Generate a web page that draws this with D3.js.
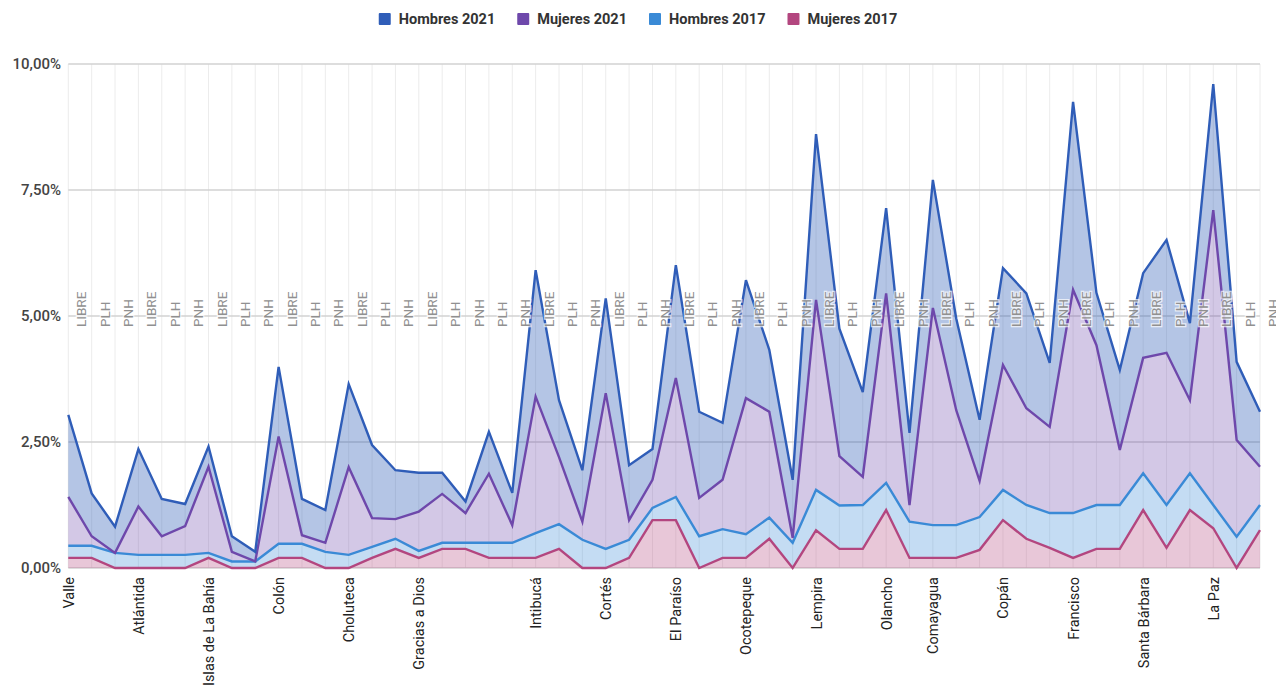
<!DOCTYPE html>
<html>
<head>
<meta charset="utf-8">
<script src="https://cdn.jsdelivr.net/npm/d3@7"></script>
<style>
  html, body { margin: 0; padding: 0; background: #fff; }
  svg { display: block; font-family: Roboto, "Noto Sans", Arial, sans-serif; }
</style>
</head>
<body>
<svg id="chart" width="1276" height="690"></svg>
<script>
// ---- Data ----
const departamentos = [
  "Valle","","", "Atlántida","","", "Islas de La Bahía","","", "Colón","","",
  "Choluteca","","", "Gracias a Dios","","", "","",
  "Intibucá","","", "Cortés","","", "El Paraíso","","", "Ocotepeque","","",
  "Lempira","","", "Olancho","", "Comayagua","","", "Copán","","",
  "Francisco","","", "Santa Bárbara","","", "La Paz","",""
];
const partidos = [
  "LIBRE","PLH","PNH","LIBRE","PLH","PNH","LIBRE","PLH","PNH","LIBRE","PLH","PNH",
  "LIBRE","PLH","PNH","LIBRE","PLH","PNH","PLH","PNH",
  "LIBRE","PLH","PNH","LIBRE","PLH","PNH","LIBRE","PLH","PNH","LIBRE","PLH","PNH",
  "LIBRE","PLH","PNH","LIBRE","PNH","LIBRE","PLH","PNH","LIBRE","PLH","PNH",
  "LIBRE","PLH","PNH","LIBRE","PLH","PNH","LIBRE","PLH","PNH"
];
// values in % (stacked series)
const mujeres2017 = [0.20,0.20,0,0,0,0,0.20,0,0,0.20,0.20,0,0,0.20,0.38,0.20,0.38,0.38,0.20,0.20,
  0.20,0.38,0,0,0.20,0.95,0.95,0,0.20,0.20,0.58,0,0.75,0.38,0.38,1.15,0.20,0.20,0.20,0.36,
  0.95,0.58,0.40,0.20,0.38,0.38,1.15,0.40,1.15,0.79,0,0.75];
const hombres2017 = [0.24,0.24,0.30,0.26,0.26,0.26,0.10,0.13,0.13,0.28,0.28,0.32,0.26,0.22,0.20,0.14,0.12,0.12,0.30,0.30,
  0.49,0.49,0.56,0.38,0.36,0.24,0.46,0.63,0.57,0.47,0.42,0.50,0.80,0.86,0.87,0.54,0.72,0.65,0.65,0.65,
  0.60,0.67,0.69,0.89,0.87,0.87,0.73,0.85,0.73,0.46,0.62,0.50];
const mujeres2021 = [0.97,0.19,0,0.96,0.37,0.57,1.71,0.19,0,2.13,0.17,0.18,1.74,0.57,0.39,0.78,0.97,0.59,1.37,0.35,
  2.71,1.33,0.36,3.09,0.39,0.56,2.36,0.76,0.98,2.70,2.10,0.10,3.77,0.98,0.56,3.76,0.33,4.31,2.28,0.72,
  2.48,1.92,1.71,4.43,3.17,1.09,2.29,3.02,1.45,5.85,1.92,0.76];
const hombres2021 = [1.63,0.85,0.52,1.14,0.74,0.44,0.40,0.31,0.19,1.38,0.72,0.65,1.65,1.45,0.97,0.77,0.42,0.23,0.83,0.64,
  2.51,1.13,1.02,1.88,1.09,0.61,2.24,1.71,1.13,2.34,1.23,1.15,3.29,2.53,1.68,1.69,1.43,2.54,1.82,1.21,
  1.92,2.28,1.27,3.73,1.04,1.59,1.68,2.24,1.53,2.50,1.55,1.09];
const yTicks = [0, 2.5, 5, 7.5, 10];
const legendOrder = ["Hombres 2021","Mujeres 2021","Hombres 2017","Mujeres 2017"];
const stackOrder = ["Mujeres 2017","Hombres 2017","Mujeres 2021","Hombres 2021"];
const colors = {
  "Hombres 2021": "#2f5db8",
  "Mujeres 2021": "#6e48ab",
  "Hombres 2017": "#3a8ad6",
  "Mujeres 2017": "#b3467f"
};

// ---- Table ----
const table = departamentos.map((d, i) => ({
  idx: i,
  "Mujeres 2017": mujeres2017[i],
  "Hombres 2017": hombres2017[i],
  "Mujeres 2021": mujeres2021[i],
  "Hombres 2021": hombres2021[i]
}));

const svg = d3.select("#chart");
const pL = 68.3, pR = 1260, pT = 64, pB = 568;

const x = d3.scalePoint().domain(d3.range(table.length)).range([pL, pR]);
const y = d3.scaleLinear().domain([0, 10]).range([pB, pT]);

const loc = d3.formatLocale({decimal: ",", thousands: ".", grouping: [3], currency: ["", "€"]});
const fmt = v => loc.format(".2f")(v) + "%";

// vertical gridlines
svg.append("g").selectAll("line").data(table).join("line")
  .attr("x1", d => x(d.idx)).attr("x2", d => x(d.idx))
  .attr("y1", pT).attr("y2", pB)
  .attr("stroke", "#ececec").attr("stroke-width", 1);

// horizontal gridlines
svg.append("g").selectAll("line").data(yTicks).join("line")
  .attr("x1", pL).attr("x2", pR)
  .attr("y1", d => y(d)).attr("y2", d => y(d))
  .attr("stroke", "#d2d2d2").attr("stroke-width", 1.3);

// y labels
svg.append("g").selectAll("text").data(yTicks).join("text")
  .attr("x", 61).attr("y", d => y(d))
  .attr("dy", "0.35em")
  .attr("text-anchor", "end")
  .attr("font-size", 15).attr("font-weight", 500)
  .attr("fill", "#444")
  .text(fmt);

// stacked areas
const stack = d3.stack().keys(stackOrder);
const series = stack(table);

const area = d3.area()
  .x((d, i) => x(i))
  .y0(d => y(d[0]))
  .y1(d => y(d[1]));
const line = d3.line()
  .x((d, i) => x(i))
  .y(d => y(d[1]));

svg.append("g").selectAll("path").data(series).join("path")
  .attr("d", area)
  .attr("fill", s => colors[s.key])
  .attr("fill-opacity", s => s.key === "Hombres 2021" ? 0.36 : 0.3)
  .attr("stroke", "none");

svg.append("g").selectAll("path").data(series).join("path")
  .attr("d", line)
  .attr("fill", "none")
  .attr("stroke", s => colors[s.key])
  .attr("stroke-width", 2.4)
  .attr("stroke-linejoin", "miter");

// party annotations
svg.append("g").selectAll("text").data(table).join("text")
  .attr("transform", d => `translate(${x(d.idx) + 18},327) rotate(-90)`)
  .attr("text-anchor", "start")
  .attr("font-size", 13.5)
  .attr("fill", "#909090")
  .attr("stroke", "#ffffff").attr("stroke-opacity", 0.7).attr("stroke-width", 2.5)
  .attr("paint-order", "stroke")
  .text(d => partidos[d.idx]);

// x labels
svg.append("g").selectAll("text").data(table.filter(d => departamentos[d.idx] !== "")).join("text")
  .attr("transform", d => `translate(${x(d.idx) + 5.5},577) rotate(-90)`)
  .attr("text-anchor", "end")
  .attr("font-size", 14.5)
  .attr("fill", "#222")
  .text(d => departamentos[d.idx]);

// legend
const lg = svg.append("g");
const items = lg.selectAll("g").data(legendOrder).join("g");
items.append("rect").attr("width", 12).attr("height", 12).attr("y", 13).attr("rx", 1)
  .attr("fill", d => colors[d]);
items.append("text").attr("x", 20).attr("y", 19).attr("dy", "0.35em")
  .attr("font-size", 14.5).attr("font-weight", 700).attr("fill", "#333")
  .text(d => d);
let widths = [];
items.each(function () { widths.push(20 + this.querySelector("text").getComputedTextLength()); });
const gap = 22;
const total = d3.sum(widths) + gap * (widths.length - 1);
let cx = 638 - total / 2;
items.attr("transform", (d, i) => {
  const t = `translate(${cx},0)`;
  cx += widths[i] + gap;
  return t;
});
</script>
</body>
</html>
